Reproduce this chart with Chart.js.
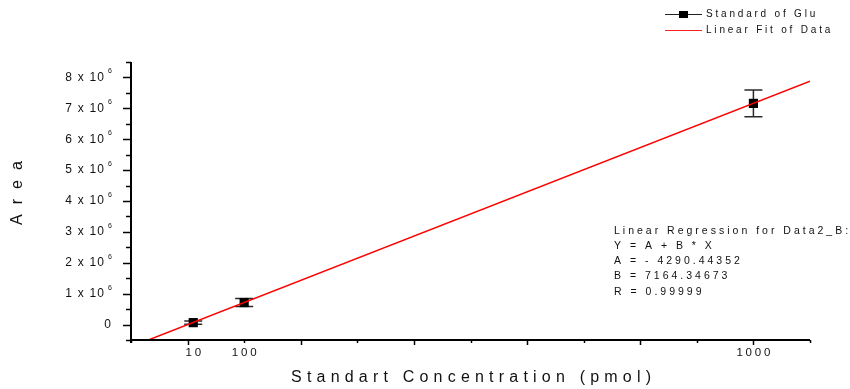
<!DOCTYPE html>
<html>
<head>
<meta charset="utf-8">
<script src="https://cdn.jsdelivr.net/npm/chart.js@4.4.0/dist/chart.umd.min.js"></script>
<style>
  html, body { margin: 0; padding: 0; background: #ffffff; }
  canvas { display: block; }
</style>
</head>
<body>
<canvas id="chart" width="850" height="389"></canvas>
<script>
// Calibration standards: concentration (pmol) vs. peak area
const concentrations = [10, 100, 1000];
const areas = [62000, 712000, 7160000];
const areaErrors = [50000, 130000, 430000];

// Axis labelling
const xTickLabels = ['10', '100', '1000'];
const xTickValues = [10, 100, 1000];
const yTickMantissas = [0, 1, 2, 3, 4, 5, 6, 7, 8];   // multiples of 10^6
const yExponent = 6;

// Linear regression results
const fitA = -4290.44352;
const fitB = 7164.34673;
const fitR = 0.99999;

const seriesLabel = 'Standard of Glu';
const fitLabel = 'Linear Fit of Data';
const xTitle = 'Standart Concentration (pmol)';
const yTitle = 'Area';

const X_MIN = -100, X_MAX = 1100;
const Y_MIN = -500000, Y_MAX = 8500000;

// Fit line across the visible range, starting where it enters at the bottom edge
const fitStartX = (Y_MIN - fitA) / fitB;
const fitPoints = [
  { x: fitStartX, y: fitA + fitB * fitStartX },
  { x: X_MAX, y: fitA + fitB * X_MAX }
];

const regressionText = [
  'Linear Regression for Data2_B:',
  'Y = A + B * X',
  'A = ' + (fitA < 0 ? '- ' : '') + Math.abs(fitA).toFixed(5),
  'B = ' + fitB.toFixed(5),
  'R = ' + fitR.toFixed(5)
];

const FONT = '"Liberation Sans", Arial, sans-serif';

function spacedText(ctx, text, x, y, spacing, align) {
  ctx.save();
  ctx.letterSpacing = spacing + 'px';
  const w = ctx.measureText(text).width - spacing;
  let sx = x;
  if (align === 'center') sx = x - w / 2;
  else if (align === 'right') sx = x - w;
  ctx.textAlign = 'left';
  ctx.fillText(text, sx, y);
  ctx.restore();
  return w;
}

const errorBarPlugin = {
  id: 'errorBars',
  beforeDatasetsDraw(chart) {
    const { ctx, scales: { x, y } } = chart;
    ctx.save();
    ctx.strokeStyle = '#2a2a2a';
    ctx.lineWidth = 1.5;
    const cap = 9;
    concentrations.forEach((c, i) => {
      const px = x.getPixelForValue(c);
      const top = y.getPixelForValue(areas[i] + areaErrors[i]);
      const bot = y.getPixelForValue(areas[i] - areaErrors[i]);
      ctx.beginPath();
      ctx.moveTo(px, top); ctx.lineTo(px, bot);
      ctx.moveTo(px - cap, top); ctx.lineTo(px + cap, top);
      ctx.moveTo(px - cap, bot); ctx.lineTo(px + cap, bot);
      ctx.stroke();
    });
    ctx.restore();
  }
};

const axesPlugin = {
  id: 'originAxes',
  afterDraw(chart) {
    const { ctx, chartArea: a, scales: { x, y } } = chart;
    ctx.save();
    ctx.fillStyle = '#000';
    ctx.strokeStyle = '#000';

    // axis lines
    ctx.lineWidth = 2;
    ctx.beginPath();
    ctx.moveTo(a.left, a.top); ctx.lineTo(a.left, a.bottom + 3);
    ctx.moveTo(a.left - 1, a.bottom); ctx.lineTo(a.right, a.bottom);
    ctx.stroke();

    // y ticks: major every 10^6, minor halfway
    ctx.lineWidth = 1.5;
    for (let v = Y_MIN; v <= Y_MAX + 1; v += 500000) {
      const py = Math.round(y.getPixelForValue(v)) + 0.5;
      const major = Math.abs(v % 1000000) < 1;
      ctx.beginPath();
      ctx.moveTo(a.left, py);
      ctx.lineTo(a.left - (major ? 8 : 5), py);
      ctx.stroke();
    }
    // x ticks: major every 200, minor every 100
    for (let v = X_MIN; v <= X_MAX + 0.1; v += 100) {
      const px = Math.round(x.getPixelForValue(v)) + 0.5;
      const major = Math.abs(v % 200) < 0.1;
      ctx.beginPath();
      ctx.moveTo(px, a.bottom);
      ctx.lineTo(px, a.bottom + (major ? 5 : 3));
      ctx.stroke();
    }

    // y tick labels with superscript exponent
    ctx.fillStyle = '#111';
    ctx.textBaseline = 'middle';
    yTickMantissas.forEach(m => {
      const py = y.getPixelForValue(m * Math.pow(10, yExponent));
      if (m === 0) {
        ctx.font = '12px ' + FONT;
        spacedText(ctx, '0', 111, py, 0, 'right');
      } else {
        ctx.font = '12px ' + FONT;
        spacedText(ctx, m + ' x 10', 104, py, 1.2, 'right');
        ctx.font = '7px ' + FONT;
        spacedText(ctx, String(yExponent), 108, py - 6, 0, 'left');
      }
    });

    // x tick labels at the measured concentrations
    ctx.font = '11.5px ' + FONT;
    xTickValues.forEach((v, i) => {
      spacedText(ctx, xTickLabels[i], x.getPixelForValue(v), 353, 2.8, 'center');
    });

    // axis titles
    ctx.font = '16px ' + FONT;
    spacedText(ctx, xTitle, 471, 378, 5.2, 'center');
    ctx.save();
    ctx.translate(18, 193);
    ctx.rotate(-Math.PI / 2);
    spacedText(ctx, yTitle, 0, 0, 10, 'center');
    ctx.restore();

    // legend
    ctx.font = '10px ' + FONT;
    ctx.lineWidth = 1.2;
    ctx.strokeStyle = '#222';
    ctx.beginPath();
    ctx.moveTo(665, 14.5); ctx.lineTo(702, 14.5);
    ctx.stroke();
    ctx.fillStyle = '#000';
    ctx.fillRect(679, 11, 9, 7);
    ctx.fillStyle = '#111';
    spacedText(ctx, seriesLabel, 706, 14, 2.8, 'left');
    ctx.strokeStyle = '#ff2020';
    ctx.beginPath();
    ctx.moveTo(665, 30.5); ctx.lineTo(702, 30.5);
    ctx.stroke();
    spacedText(ctx, fitLabel, 706, 30, 2.8, 'left');

    // regression summary
    ctx.font = '10.5px ' + FONT;
    regressionText.forEach((t, i) => {
      spacedText(ctx, t, 614, 231 + i * 15.2, 3.0, 'left');
    });

    ctx.restore();
  }
};

new Chart(document.getElementById('chart'), {
  type: 'scatter',
  data: {
    datasets: [
      {
        label: fitLabel,
        data: fitPoints,
        showLine: true,
        borderColor: '#ff0000',
        borderWidth: 1.4,
        pointRadius: 0,
        order: 0
      },
      {
        label: seriesLabel,
        data: concentrations.map((c, i) => ({ x: c, y: areas[i] })),
        pointStyle: 'rect',
        pointRadius: 6.5,
        backgroundColor: '#000000',
        borderColor: '#000000',
        borderWidth: 0,
        order: 1
      }
    ]
  },
  options: {
    responsive: false,
    animation: false,
    layout: { padding: { left: 131, right: 40, top: 62, bottom: 49 } },
    plugins: { legend: { display: false }, tooltip: { enabled: false } },
    scales: {
      x: { type: 'linear', min: X_MIN, max: X_MAX, display: false },
      y: { type: 'linear', min: Y_MIN, max: Y_MAX, display: false }
    }
  },
  plugins: [errorBarPlugin, axesPlugin]
});
</script>
</body>
</html>
